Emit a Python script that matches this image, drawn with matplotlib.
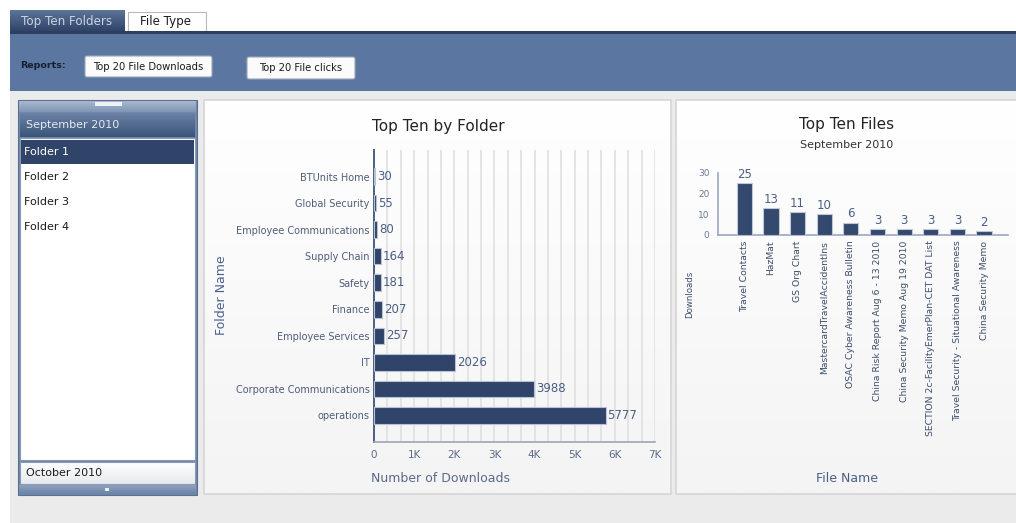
import numpy as np
import matplotlib
matplotlib.use("Agg")
import matplotlib.pyplot as plt
from matplotlib.patches import Rectangle, FancyBboxPatch
from matplotlib.ticker import MultipleLocator, FuncFormatter

# data
folders = ["BTUnits Home", "Global Security", "Employee Communications",
           "Supply Chain", "Safety", "Finance", "Employee Services", "IT",
           "Corporate Communications", "operations"]
downloads = [30, 55, 80, 164, 181, 207, 257, 2026, 3988, 5777]

files = ["Travel Contacts", "HazMat", "GS Org Chart",
         "MastercardTravelAccidentIns", "OSAC Cyber Awareness Bulletin",
         "China Risk Report Aug 6 - 13 2010", "China Security Memo Aug 19 2010",
         "SECTION 2c-FacilityEmerPlan-CET DAT List",
         "Travel Security - Situational Awareness", "China Security Memo"]
file_downloads = [25, 13, 11, 10, 6, 3, 3, 3, 3, 2]

list_items = ["Folder 1", "Folder 2", "Folder 3", "Folder 4"]

W, H = 1016, 523
NAVY = "#2f4468"
plt.rcParams["font.family"] = "DejaVu Sans"

fig = plt.figure(figsize=(W / 100, H / 100), dpi=100)
fig.patch.set_facecolor("white")

# background canvas in pixel coords
bg = fig.add_axes([0, 0, 1, 1])
bg.set_xlim(0, W)
bg.set_ylim(H, 0)
bg.axis("off")


def box(x0, y0, x1, y1, fc, ec="none", lw=0, z=1):
    bg.add_patch(Rectangle((x0, y0), x1 - x0, y1 - y0, facecolor=fc,
                           edgecolor=ec, linewidth=lw, zorder=z))


def grad(x0, y0, x1, y1, top, bottom, z=1):
    c0 = np.array(matplotlib.colors.to_rgb(top))
    c1 = np.array(matplotlib.colors.to_rgb(bottom))
    t = np.linspace(0, 1, 64)[:, None]
    img = (c0 * (1 - t) + c1 * t)[:, None, :]
    bg.imshow(img, extent=(x0, x1, y1, y0), aspect="auto", zorder=z,
              interpolation="bilinear")


# tabs
grad(10, 10, 125, 31, "#5d7599", "#2f4468", z=2)
bg.text(21, 21, "Top Ten Folders", color="#c9d3e2", fontsize=8.6, va="center", zorder=3)
box(128, 12, 206, 31, "white", "#b8b8b8", 0.8, z=2)
bg.text(140, 21.5, "File Type", color="#1c1c1c", fontsize=8.6, va="center", zorder=3)

# header band
box(10, 31, W, 34, "#2c3f5e", z=2)
box(10, 34, W, 91, "#5b77a1", z=2)
bg.text(20, 66, "Reports:", color="#15202f", fontsize=6.8, fontweight="bold",
        va="center", zorder=3)
for (x0, y0, x1, y1), lab in [((85, 56, 212, 77), "Top 20 File Downloads"),
                              ((247, 57, 355, 79), "Top 20 File clicks")]:
    bg.add_patch(FancyBboxPatch((x0, y0), x1 - x0, y1 - y0,
                                boxstyle="round,pad=0,rounding_size=2",
                                facecolor="#fbfbfb", edgecolor="#9aa6b8",
                                linewidth=0.8, zorder=3))
    bg.text((x0 + x1) / 2, (y0 + y1) / 2, lab, color="#1c1c1c", fontsize=7.2,
            ha="center", va="center", zorder=4)

# gray work area
box(10, 91, W, H, "#ebebeb", z=1)

# left list panel
box(18, 100, 197, 495, "#7088ac", "#5a6f92", 0.8, z=2)
grad(19, 101, 196, 112, "#a9b8cd", "#7f95b5", z=3)
box(95, 102, 122, 106, "#eef1f6", z=4)
grad(20, 113, 195, 137, "#6b82a6", "#3b5479", z=3)
bg.text(26, 125, "September 2010", color="#e3e9f2", fontsize=8, va="center", zorder=4)
box(20, 138, 195, 460, "white", "#8a9ab2", 0.8, z=3)
box(21, 140, 194, 164, NAVY, z=4)
for i, item in enumerate(list_items):
    yy = 152 + i * 25
    bg.text(24, yy, item, color="white" if i == 0 else "#1c1c1c",
            fontsize=8, va="center", zorder=5)
grad(20, 462, 195, 484, "#ffffff", "#e6e9ee", z=3)
bg.add_patch(Rectangle((20, 462), 175, 22, fill=False, edgecolor="#8a9ab2",
                       linewidth=0.8, zorder=4))
bg.text(26, 473, "October 2010", color="#1c1c1c", fontsize=8, va="center", zorder=5)
grad(19, 485, 196, 494, "#8ea2bf", "#6b83a8", z=3)
box(105, 488, 109, 491, "#eef1f6", z=4)

# chart panels
for x0, x1 in [(204, 671), (676, W + 2)]:
    grad(x0, 100, x1, 494, "#ffffff", "#f4f4f4", z=2)
    bg.add_patch(Rectangle((x0, 100), x1 - x0, 394, fill=False,
                           edgecolor="#d6d6d6", linewidth=1.2, zorder=3))

bg.text(438, 126, "Top Ten by Folder", color="#232323", fontsize=11,
        ha="center", va="center", zorder=4)
bg.text(847, 124, "Top Ten Files", color="#232323", fontsize=11,
        ha="center", va="center", zorder=4)
bg.text(847, 145, "September 2010", color="#333333", fontsize=8,
        ha="center", va="center", zorder=4)


def px_rect(x0, y0, x1, y1):
    return [x0 / W, 1 - y1 / H, (x1 - x0) / W, (y1 - y0) / H]


# horizontal bar chart
ax1 = fig.add_axes(px_rect(374, 150, 655, 442))
ax1.patch.set_alpha(0)
ypos = np.arange(len(folders))
ax1.barh(ypos, downloads, height=0.62, color=NAVY, edgecolor="#b8c2d2",
         linewidth=0.8, zorder=3)
for y, v in zip(ypos, downloads):
    ax1.text(v + 40, y, str(v), color="#4a5f85", fontsize=8.5, va="center", zorder=4)
ax1.set_ylim(len(folders), -1)
ax1.set_xlim(0, 7000)
ax1.set_yticks(ypos)
ax1.set_yticklabels(folders, fontsize=7, color="#4f5d78")
ax1.xaxis.set_major_locator(MultipleLocator(1000))
ax1.xaxis.set_minor_locator(MultipleLocator(1000 / 3))
ax1.xaxis.set_major_formatter(FuncFormatter(lambda v, p: "0" if v == 0 else f"{int(v / 1000)}K"))
ax1.tick_params(axis="x", labelsize=7.5, labelcolor="#5a6a88", length=0, pad=6)
ax1.tick_params(axis="y", length=0, pad=3)
ax1.tick_params(which="minor", length=0)
ax1.grid(axis="x", which="both", color="#e2e2e2", linewidth=1.3, zorder=0)
for s in ["top", "right"]:
    ax1.spines[s].set_visible(False)
ax1.spines["left"].set_color("#4a5f85")
ax1.spines["left"].set_linewidth(1.4)
ax1.spines["bottom"].set_color("#9aa6ba")
ax1.spines["bottom"].set_linewidth(1.2)
ax1.set_ylabel("Folder Name", color="#4a6090", fontsize=9)
ax1.yaxis.set_label_coords(-0.52, 0.503)
ax1.set_xlabel("Number of Downloads", color="#5a6a88", fontsize=9)
ax1.xaxis.set_label_coords(0.235, -0.103)

# vertical bar chart
ax2 = fig.add_axes(px_rect(717.7, 172.7, 1008, 235))
ax2.patch.set_alpha(0)
xpos = np.arange(len(files))
ax2.bar(xpos, file_downloads, width=0.57, color="#34496e", edgecolor="#c0c8d6",
        linewidth=0.8, zorder=3)
for x, v in zip(xpos, file_downloads):
    ax2.text(x, v + 1, str(v), color="#4a5f85", fontsize=8.5, ha="center",
             va="bottom", zorder=4)
ax2.set_xlim(-1, 9.9)
ax2.set_ylim(0, 30)
ax2.set_yticks([0, 10, 20, 30])
ax2.set_xticks(xpos)
ax2.set_xticklabels(files, rotation=90, fontsize=6.7, color="#3d4d6c")
ax2.tick_params(axis="y", labelsize=6.5, labelcolor="#6a7a98", length=0, pad=6)
ax2.tick_params(axis="x", length=0, pad=4)
for s in ["top", "right"]:
    ax2.spines[s].set_visible(False)
for s in ["left", "bottom"]:
    ax2.spines[s].set_color("#9aa8c0")
    ax2.spines[s].set_linewidth(1.2)
ax2.set_ylabel("Downloads", color="#3d4d6c", fontsize=6.2)
ax2.yaxis.set_label_coords(-0.081, -0.96)
ax2.set_xlabel("File Name", color="#4a5f85", fontsize=9)
ax2.xaxis.set_label_coords(0.445, -3.80)

fig.savefig("out.png", dpi=100)
